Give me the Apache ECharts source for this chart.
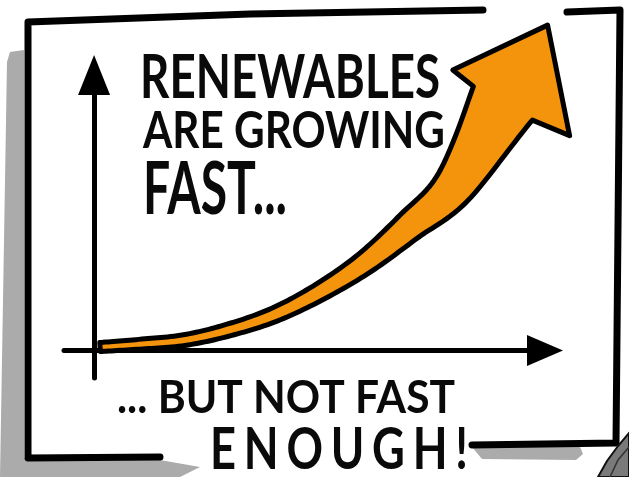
<!DOCTYPE html>
<html>
<head>
<meta charset="utf-8">
<script src="https://cdn.jsdelivr.net/npm/echarts@6/dist/echarts.min.js"></script>
<style>html,body{margin:0;padding:0;background:#fff}#c{width:629px;height:477px}</style>
</head>
<body>
<div id="c"></div>
<script>
// ---- data ----
const years = [0.8, 6, 12, 18, 24, 30, 36, 42, 48, 54.4];
const growth = [0.5, 0.9, 1.5, 3.0, 5.2, 8.5, 12.7, 18.1, 24.0, 35.9];
const xRange = [-4, 60];
const yRange = [-4, 40];
const headline = ['RENEWABLES', 'ARE GROWING', 'FAST...'];
const footline = ['... BUT NOT FAST', 'ENOUGH!'];

// ---- helpers ----
const FONT = 'Lato, "DejaVu Sans", sans-serif';
const mctx = document.createElement('canvas').getContext('2d');
function fitText(str, left, right, capTop, baseline) {
  const cap = baseline - capTop;
  const size = Math.round(cap / 0.72);
  const f = 'bold ' + size + 'px ' + FONT;
  mctx.font = f;
  const w = mctx.measureText(str).width;
  return {
    type: 'text', x: left, y: (capTop + baseline) / 2 + size * 0.02, scaleX: (right - left) / w, z: 10,
    style: { text: str, font: f, fill: '#0a0a0a', align: 'left', verticalAlign: 'middle' }
  };
}
// letters narrowed and spread out evenly between left and right (hand-lettered spacing)
function spreadText(str, left, right, capTop, baseline, squeeze) {
  const cap = baseline - capTop;
  const size = Math.round(cap / 0.72);
  const f = 'bold ' + size + 'px ' + FONT;
  mctx.font = f;
  const chars = str.split('');
  const widths = chars.map(ch => mctx.measureText(ch).width * squeeze);
  const total = widths.reduce((a, b) => a + b, 0);
  const gap = (right - left - total) / (chars.length - 1);
  let x = left;
  const kids = [];
  chars.forEach((ch, i) => {
    kids.push({ type: 'text', x: x, y: (capTop + baseline) / 2 + size * 0.02, scaleX: squeeze, z: 10,
      style: { text: ch, font: f, fill: '#0a0a0a', align: 'left', verticalAlign: 'middle' } });
    x += widths[i] + gap;
  });
  return kids;
}
function catmull(pts, steps) {
  const out = [];
  for (let i = 0; i < pts.length - 1; i++) {
    const p0 = pts[Math.max(0, i - 1)], p1 = pts[i], p2 = pts[i + 1], p3 = pts[Math.min(pts.length - 1, i + 2)];
    for (let s = 0; s < steps; s++) {
      const t = s / steps, t2 = t * t, t3 = t2 * t;
      const f = (a, b, c, d) => 0.5 * ((2 * b) + (-a + c) * t + (2 * a - 5 * b + 4 * c - d) * t2 + (-a + 3 * b - 3 * c + d) * t3);
      out.push([f(p0[0], p1[0], p2[0], p3[0]), f(p0[1], p1[1], p2[1], p3[1])]);
    }
  }
  out.push(pts[pts.length - 1]);
  return out;
}

const chart = echarts.init(document.getElementById('c'), null, { renderer: 'canvas' });

const axisLineStyle = { color: '#000', width: 5, cap: 'round' };

chart.setOption({
  backgroundColor: '#fff',
  animation: false,
  grid: { left: 64, right: 84, top: 75, bottom: 99 },
  xAxis: {
    type: 'value', min: xRange[0], max: xRange[1],
    axisLine: { show: true, onZero: true, symbol: ['none', 'triangle'], symbolSize: [31, 36], lineStyle: axisLineStyle },
    axisTick: { show: false }, axisLabel: { show: false }, splitLine: { show: false }
  },
  yAxis: {
    type: 'value', min: yRange[0], max: yRange[1],
    axisLine: { show: true, onZero: true, symbol: ['none', 'triangle'], symbolSize: [32, 40], lineStyle: axisLineStyle },
    axisTick: { show: false }, axisLabel: { show: false }, splitLine: { show: false }
  },
  series: [{
    type: 'custom',
    name: 'Renewables',
    coordinateSystem: 'cartesian2d',
    clip: false,
    data: [[0, 0]],
    renderItem: function (params, api) {
      const pts = years.map((x, i) => api.coord([x, growth[i]]));
      const c = catmull(pts, 14);
      const n = c.length;
      const len = [0];
      for (let i = 1; i < n; i++) len.push(len[i - 1] + Math.hypot(c[i][0] - c[i - 1][0], c[i][1] - c[i - 1][1]));
      const L = len[n - 1];
      const left = [], right = [];
      let lastN = [0, 0], lastD = [0, 0];
      for (let i = 0; i < n; i++) {
        const a = c[Math.max(0, i - 1)], b = c[Math.min(n - 1, i + 1)];
        let dx = b[0] - a[0], dy = b[1] - a[1];
        const m = Math.hypot(dx, dy) || 1; dx /= m; dy /= m;
        const nx = -dy, ny = dx;
        const t = len[i] / L;
        const w = 9 + 10 * t + 49 * Math.pow(t, 3.5);
        left.push([c[i][0] - nx * w / 2, c[i][1] - ny * w / 2]);
        right.push([c[i][0] + nx * w / 2, c[i][1] + ny * w / 2]);
        if (i === n - 1) { lastN = [nx, ny]; lastD = [dx, dy]; }
      }
      const B = c[n - 1];
      const P = (a, b) => [B[0] + lastN[0] * a + lastD[0] * b, B[1] + lastN[1] * a + lastD[1] * b];
      const head = [P(-60, 4), P(0, 90), P(74, 5)];
      const poly = left.concat(head, right.reverse());
      return {
        type: 'polygon',
        shape: { points: poly },
        style: { fill: '#F4940C', stroke: '#000', lineWidth: 5, lineJoin: 'round' }
      };
    }
  }],
  graphic: [
    // drop shadow of the frame
    { type: 'polygon', z: 1, shape: { points: [[10, 52], [24, 50], [24, 458], [160, 460], [200, 467], [180, 477], [0, 477], [3, 300], [7, 62]] }, style: { fill: '#ABABAB' } },
    { type: 'polygon', z: 1, shape: { points: [[472, 447], [580, 447], [583, 454], [576, 460], [482, 459]] }, style: { fill: '#ABABAB' } },
    // frame
    { type: 'polyline', z: 2, shape: { points: [[160, 457], [28, 458], [28, 22], [250, 14], [483, 10]] }, style: { stroke: '#000', lineWidth: 7, lineCap: 'round', lineJoin: 'round', fill: null } },
    { type: 'polyline', z: 2, shape: { points: [[567, 12], [620, 10], [616, 443], [472, 445]] }, style: { stroke: '#000', lineWidth: 7, lineCap: 'round', lineJoin: 'round', fill: null } },
    // pencil tip in the corner
    { type: 'polygon', z: 3, shape: { points: [[598, 477], [607, 461], [618, 446], [629, 433], [629, 477]] }, style: { fill: '#7a7a7a', stroke: '#111', lineWidth: 2 } },
    { type: 'polyline', z: 3, shape: { points: [[610, 477], [618, 460], [629, 447]] }, style: { stroke: '#333', lineWidth: 1.5, fill: null } },
    // texts
    fitText(headline[0], 140, 440, 55, 99),
    fitText(headline[1], 143, 445, 112, 149),
    fitText(headline[2], 143, 287, 163, 215),
    fitText(footline[0], 117, 455, 381, 414)
  ].concat(spreadText(footline[1], 210, 468, 428, 470, 0.78))
});
</script>
</body>
</html>
